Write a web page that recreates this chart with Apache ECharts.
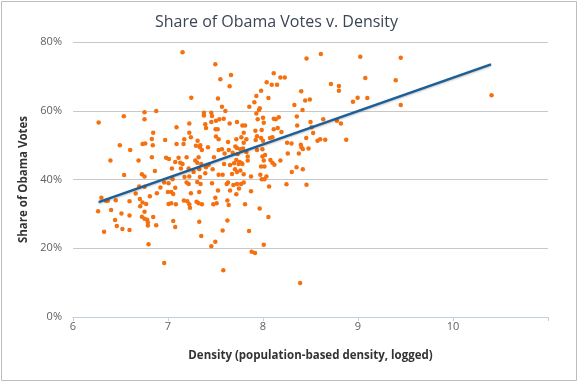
<!DOCTYPE html>
<html><head><meta charset="utf-8">
<script src="https://cdn.jsdelivr.net/npm/echarts@6/dist/echarts.min.js"></script>
<style>html,body{margin:0;padding:0;background:#fff}#c{width:580px;height:384px}</style>
</head><body><div id="c"></div>
<script>
const density = [
6.27,6.535,6.753,6.876,6.753,6.844,6.83,6.97,6.493,6.732,6.76,6.84,6.602,6.394,6.69,6.83,6.98,7.01,6.862,6.538,
6.725,6.753,6.697,6.753,6.92,6.96,7.006,6.66,6.883,6.999,6.809,6.299,6.348,6.366,6.45,6.595,6.704,6.732,6.77,6.707,
7.006,6.264,6.401,6.51,6.595,6.753,6.725,6.753,6.78,6.788,6.844,6.443,6.461,6.52,6.595,6.876,6.788,6.327,6.795,6.96,
7.153,7.498,7.551,7.663,7.649,7.245,7.526,7.568,7.604,7.378,7.456,7.378,7.463,7.224,7.392,7.456,7.505,7.54,7.586,7.649,
7.09,7.4,7.501,7.523,7.224,7.171,7.241,7.312,7.505,7.533,7.632,7.09,7.164,7.294,7.34,7.336,7.421,7.357,7.533,7.568,
7.596,7.64,7.681,7.322,7.111,7.196,7.484,7.076,7.287,7.129,7.153,7.308,7.35,7.428,7.4,7.59,7.653,7.695,7.041,7.136,
7.217,7.329,7.47,7.27,7.392,7.174,7.224,7.336,7.533,7.575,7.674,7.048,7.196,7.217,7.308,7.343,7.463,7.618,7.632,7.688,
7.076,7.034,7.055,7.241,7.329,7.526,7.653,7.498,7.625,7.167,7.203,7.301,7.322,7.357,7.034,7.083,7.224,7.477,7.512,7.639,
7.231,7.055,7.076,7.329,7.625,7.575,7.35,7.498,7.456,7.582,
8.113,8.183,8.229,8.039,8.092,8.148,7.98,7.93,8.057,7.909,7.856,7.966,7.958,7.93,8.0,8.166,8.113,8.134,7.726,7.783,
7.811,7.944,8.008,8.155,8.113,8.194,7.797,7.92,7.986,7.719,7.772,7.825,7.937,7.98,8.074,8.099,8.0,7.797,7.923,7.709,
7.726,7.761,7.79,7.825,7.937,7.994,7.733,7.839,7.994,8.022,8.078,8.008,7.719,7.754,7.783,7.744,7.776,7.839,8.099,8.12,
8.183,7.98,8.015,7.705,7.762,7.726,7.797,7.874,7.972,8.036,7.987,8.015,8.247,7.726,7.769,7.797,7.747,7.719,7.874,8.064,
7.811,7.965,8.057,7.853,8.008,7.881,7.916,8.254,8.3,8.261,8.303,8.33,8.356,8.36,
8.458,8.609,9.024,8.402,8.715,8.799,8.799,9.077,8.444,8.493,8.947,8.996,9.098,8.416,8.5,8.511,8.634,8.778,8.82,8.528,
8.455,8.574,8.602,8.655,8.876,8.398,8.405,8.419,8.479,8.377,8.353,8.419,8.458,8.391,
9.45,9.397,9.45,10.406
];
const obamaShare = [
56.6,58.4,59.6,59.9,57.5,53.6,51.8,51.5,50,50.3,50.5,50,48.6,45.5,45.5,46.5,46.3,46,42.5,41.3,
41.5,40.9,38,37.9,37.7,39.1,38.9,35.9,36,36.4,35.1,34.7,33.8,33.8,34,33.7,34.3,33.3,32.9,32.2,
32.9,30.8,31.1,30.1,29.5,30.6,29.2,28.6,28.3,27.6,29.1,28.2,26.5,25.6,25.3,26.7,26.6,24.8,21.2,15.7,
77.0,73.5,69.2,70.4,67.1,63.8,63.6,61.2,59.9,59.4,59.4,58.6,58.5,56.3,56.1,56.7,57.1,57.5,57.7,56.3,
55.2,55,54.6,54.6,53.6,51.7,52.3,51.3,52.5,51.7,50.9,50.3,50.3,49.8,50,49.4,49.4,48.6,48.6,48.8,
47.6,48.6,47.8,46.5,46.3,46.5,46.5,45.1,45.5,44.9,44.5,44.9,44.5,44.3,43.6,44.5,44.2,44.7,43.2,43.2,
43.2,43,43,42.2,41.8,40.7,40.9,40.7,41.4,41.4,41.6,40.1,39.1,38.7,39.3,38.7,38.9,38.7,39.1,38.4,
37.6,36.4,35.8,36,36.4,36.8,36.8,34.7,33.9,33.9,33.7,33.5,33.1,32.8,33.1,32.8,32.8,32.8,33.1,32.6,
31.8,27.9,26.2,27.7,28.1,25.2,23.6,21.9,20.6,13.6,
70.9,69.7,69.7,68.3,67.6,67.6,65.8,64.3,63.7,62.5,61.2,60.7,60.2,59.2,58,58.1,57.7,57.5,56.7,55.7,
55.7,57.5,56.5,55,54.6,53.8,53.6,54.2,54.4,51.7,52.3,51.7,52.6,52.1,52.1,52.3,51.3,50.7,51.5,49.6,
49.2,48.8,49,48,48.6,48.8,47.4,46.7,46.7,47.1,45.7,45.5,45.7,45.1,44.5,44.5,44.7,45.5,44.9,44.3,
45.5,43.8,43.8,43,42.6,42.2,41.5,40.9,41.4,40.9,40.1,40.1,38.6,38.7,38.7,39.1,37.4,35.7,36.6,38,
32.8,31.6,29.1,25,21,19,18.6,50.7,50.5,47.6,42.2,61.7,58.3,55.7,
75.2,76.5,75.7,65.7,67.8,67.2,65.8,69.5,63,63.3,62.6,63.8,63.7,60.2,56.7,55.2,57.5,57.1,56.3,53.5,
52.1,51.3,51.7,51.6,51.6,50.1,49.4,48.9,49,47.6,43.6,43,38.5,9.9,
75.4,68.9,61.7,64.5
];
const fitDensity = [6.27, 10.40];
const fitShare = [33.4, 73.5];
const xTickLabels = [6, 7, 8, 9, 10];
const yTickLabels = ['0%', '20%', '40%', '60%', '80%'];

const chart = echarts.init(document.getElementById('c'), null, {renderer: 'canvas'});
const FONT = '"Open Sans", "DejaVu Sans", sans-serif';
chart.setOption({
  animation: false,
  backgroundColor: '#fff',
  textStyle: {fontFamily: FONT},
  title: {
    text: 'Share of Obama Votes v. Density',
    left: 150, top: 9,
    textStyle: {fontFamily: FONT, fontSize: 16, fontWeight: 'normal', color: '#3b4654'}
  },
  graphic: [{
    type: 'rect', silent: true,
    shape: {x: 1.5, y: 1.5, width: 575, height: 379},
    style: {fill: null, stroke: '#bdbdbd', lineWidth: 1}
  }],
  grid: {left: 73, right: 32, top: 42, bottom: 67, containLabel: false},
  xAxis: {
    type: 'value', min: 6, max: 11, interval: 1,
    axisLine: {show: true, lineStyle: {color: '#C0D0E0', width: 1}},
    axisTick: {show: true, length: 4, lineStyle: {color: '#C0D0E0'}},
    splitLine: {show: false},
    axisLabel: {
      color: '#606060', fontSize: 11, margin: 4, fontFamily: FONT,
      formatter: v => xTickLabels.indexOf(v) >= 0 ? String(v) : ''
    },
    name: 'Density (population-based density, logged)',
    nameLocation: 'middle', nameGap: 33,
    nameTextStyle: {fontFamily: FONT, fontSize: 11.5, fontWeight: 'bold', color: '#333'}
  },
  yAxis: {
    type: 'value', min: 0, max: 80, interval: 20,
    axisLine: {show: false}, axisTick: {show: false},
    splitLine: {show: true, lineStyle: {color: '#c8c8c8', width: 1}},
    axisLabel: {
      color: '#606060', fontSize: 11, margin: 11, fontFamily: FONT,
      formatter: v => yTickLabels[v / 20]
    },
    name: 'Share of Obama Votes',
    nameLocation: 'middle', nameGap: 36, nameRotate: 90,
    nameTextStyle: {fontFamily: FONT, fontSize: 11.5, fontWeight: 'bold', color: '#333'}
  },
  series: [{
    type: 'scatter',
    data: density.map((d, i) => [d, obamaShare[i]]),
    symbolSize: 4.5,
    itemStyle: {color: '#f5700f', opacity: 1},
    z: 2
  }, {
    type: 'line',
    data: fitDensity.map((d, i) => [d, fitShare[i]]),
    showSymbol: false, symbol: 'none',
    lineStyle: {color: '#1c5f98', width: 2.5, shadowColor: 'rgba(0,0,0,0.25)', shadowBlur: 2, shadowOffsetY: 1},
    z: 3
  }]
});
</script>
</body></html>
